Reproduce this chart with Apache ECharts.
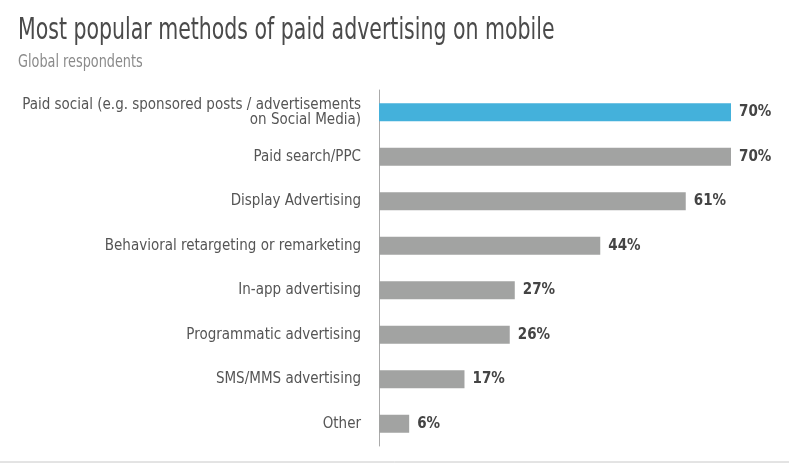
<!DOCTYPE html>
<html><head><meta charset="utf-8">
<script src="https://cdn.jsdelivr.net/npm/echarts@6/dist/echarts.min.js"></script>
<style>html,body{margin:0;padding:0;background:#fff}#c{width:789px;height:463px}</style>
</head><body><div id="c"></div>
<script>
var categories = [
  "Paid social (e.g. sponsored posts / advertisements\non Social Media)",
  "Paid search/PPC",
  "Display Advertising",
  "Behavioral retargeting or remarketing",
  "In-app advertising",
  "Programmatic advertising",
  "SMS/MMS advertising",
  "Other"
];
var values = [70, 70, 61, 44, 27, 26, 17, 6];
var highlightIndex = 0;
var titleText = 'Most popular methods of paid advertising on mobile';
var subtitleText = 'Global respondents';

var FONT = '"DejaVu Sans Condensed", "Liberation Sans Narrow", sans-serif';
var chart = echarts.init(document.getElementById('c'));
chart.setOption({
  animation: false,
  backgroundColor: '#fff',
  grid: {left: 379, width: 352, top: 90, height: 356, containLabel: false, outerBoundsMode: 'none'},
  xAxis: {type: 'value', min: 0, max: 70, show: false},
  yAxis: {
    type: 'category', inverse: true, data: categories,
    axisLine: {show: true, lineStyle: {color: '#aaaaaa', width: 1}},
    axisTick: {show: false},
    axisLabel: {fontFamily: FONT, fontSize: 15, color: '#555', margin: 18, lineHeight: 15, align: 'right'}
  },
  series: [{
    type: 'bar', barWidth: 18,
    data: values.map(function(v, i){
      return {value: v, itemStyle: {color: i === highlightIndex ? '#44b1db' : '#a2a3a2'}};
    }),
    label: {show: true, position: 'right', distance: 8, formatter: '{c}%',
      fontFamily: FONT, fontSize: 15, fontWeight: 'bold', color: '#444'}
  }],
  graphic: [
    {type: 'text', left: 18, top: 15, scaleX: 0.735, originX: 0,
      style: {text: titleText, font: '31px ' + FONT, fill: '#4a4a4a'}},
    {type: 'text', left: 18, top: 54, scaleX: 0.84, originX: 0,
      style: {text: subtitleText, font: '17px ' + FONT, fill: '#8a8a8a'}},
    {type: 'line', shape: {x1: 0, y1: 462, x2: 789, y2: 462}, style: {stroke: '#c8c8c8', lineWidth: 1}}
  ]
});
</script></body></html>
